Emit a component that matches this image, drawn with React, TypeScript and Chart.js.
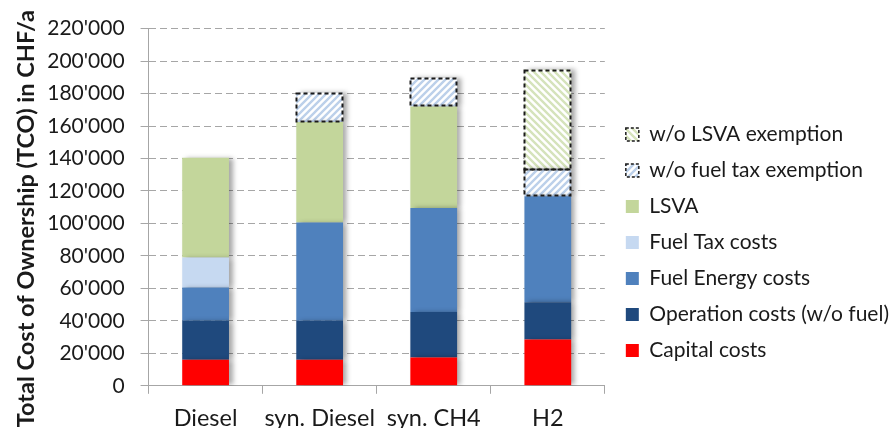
import React, { useEffect, useRef } from "react";
import { Chart, registerables } from "chart.js";

Chart.register(...registerables);

const categories = ["Diesel", "syn. Diesel", "syn. CH4", "H2"];
const capitalCosts = [16000, 16000, 17500, 28500];
const operationCosts = [24000, 24000, 28000, 23000];
const fuelEnergyCosts = [20500, 60500, 64000, 65300];
const fuelTaxCosts = [18500, 0, 0, 0];
const lsvaCosts = [61500, 62000, 62500, 0];
const fuelTaxExemption = [0, 18000, 17500, 16500];
const lsvaExemption = [0, 0, 0, 61500];
const yTicks = [0, 20000, 40000, 60000, 80000, 100000, 120000, 140000, 160000, 180000, 200000, 220000];
const yTitle = "Total Cost of Ownership (TCO) in CHF/a";

const FONT = "Lato, 'Open Sans', sans-serif";

function makeHatch(bg: string, stripe: string, dir: "/" | "\\") {
  const s = 7;
  const c = document.createElement("canvas");
  c.width = s;
  c.height = s;
  const g = c.getContext("2d")!;
  g.fillStyle = bg;
  g.fillRect(0, 0, s, s);
  g.strokeStyle = stripe;
  g.lineWidth = 2.4;
  g.beginPath();
  if (dir === "/") {
    g.moveTo(-s, s); g.lineTo(s, -s);
    g.moveTo(0, s); g.lineTo(s, 0);
    g.moveTo(0, 2 * s); g.lineTo(2 * s, 0);
  } else {
    g.moveTo(-s, 0); g.lineTo(s, 2 * s);
    g.moveTo(0, 0); g.lineTo(s, s);
    g.moveTo(0, -s); g.lineTo(2 * s, s);
  }
  g.stroke();
  return g.createPattern(c, "repeat") as CanvasPattern;
}

function fmt(v: number) {
  if (v === 0) return "0";
  const k = Math.floor(v / 1000);
  return `${k}'000`;
}

export default function App() {
  const ref = useRef<HTMLCanvasElement>(null);
  useEffect(() => {
    document.body.style.margin = "0";
    document.body.style.overflow = "hidden";
    const blueHatch = makeHatch("#ffffff", "#bcd0ea", "/");
    const greenHatch = makeHatch("#ffffff", "#d5e3bb", "\\");

    const shadowPlugin = {
      id: "barShadow",
      beforeDatasetDraw(chart: any) {
        const ctx = chart.ctx;
        ctx.save();
        ctx.shadowColor = "rgba(0,0,0,0.35)";
        ctx.shadowBlur = 5;
        ctx.shadowOffsetX = 4;
        ctx.shadowOffsetY = 0;
      },
      afterDatasetDraw(chart: any) {
        chart.ctx.restore();
      },
    };

    const dashPlugin = {
      id: "dashBorder",
      afterDatasetsDraw(chart: any) {
        const ctx = chart.ctx;
        chart.data.datasets.forEach((ds: any, i: number) => {
          if (!ds.hatched) return;
          const meta = chart.getDatasetMeta(i);
          meta.data.forEach((el: any, j: number) => {
            if (!ds.data[j]) return;
            const p = el.getProps(["x", "y", "base", "width"], true);
            ctx.save();
            ctx.setLineDash([4, 3]);
            ctx.lineWidth = 2;
            ctx.strokeStyle = "#1a1a1a";
            ctx.strokeRect(Math.round(p.x - p.width / 2) + 0.5, Math.round(p.y) + 0.5, Math.round(p.width) - 1, Math.round(p.base - p.y) - 1);
            ctx.restore();
          });
        });
      },
    };

    const legendShift = {
      id: "legendShift",
      afterLayout(chart: any) {
        if (chart.legend) {
          chart.legend.left += 6;
          chart.legend.right += 6;
        }
      },
    };

    const chart = new Chart(ref.current!, {
      type: "bar",
      data: {
        labels: categories,
        datasets: [
          { label: "Capital costs", data: capitalCosts, backgroundColor: "#ff0000" },
          { label: "Operation costs (w/o fuel)", data: operationCosts, backgroundColor: "#1f497d" },
          { label: "Fuel Energy costs", data: fuelEnergyCosts, backgroundColor: "#4f81bd" },
          { label: "Fuel Tax costs", data: fuelTaxCosts, backgroundColor: "#c6d9f1" },
          { label: "LSVA", data: lsvaCosts, backgroundColor: "#c3d69b" },
          { label: "w/o fuel tax exemption", data: fuelTaxExemption, backgroundColor: blueHatch, hatched: true } as any,
          { label: "w/o LSVA exemption", data: lsvaExemption, backgroundColor: greenHatch, hatched: true } as any,
        ],
      },
      options: {
        animation: false,
        responsive: false,
        events: [],
        layout: { padding: { left: 12, top: 4, right: 0, bottom: 0 } },
        datasets: { bar: { barPercentage: 0.41, categoryPercentage: 1, borderWidth: 0 } },
        scales: {
          x: {
            stacked: true,
            offset: true,
            grid: { display: true, drawOnChartArea: false, drawTicks: true, tickLength: 8, color: "#a6a6a6", offset: true },
            border: { display: true, color: "#a6a6a6", width: 1 },
            ticks: { font: { family: FONT, size: 23.5 }, color: "#1a1a1a", padding: 11, maxRotation: 0, autoSkip: false },
          },
          y: {
            stacked: true,
            min: 0,
            max: 220000,
            afterBuildTicks(scale: any) {
              scale.ticks = yTicks.map((v) => ({ value: v }));
            },
            grid: { color: "#a6a6a6", tickLength: 8, tickBorderDash: [], lineWidth: 1 },
            border: { display: true, color: "#a6a6a6", dash: [7, 4] } as any,
            ticks: { font: { family: FONT, size: 21 }, color: "#1a1a1a", padding: 16, callback: (v: any) => fmt(Number(v)) },
            title: { display: true, text: yTitle + "    ", font: { family: FONT, size: 23.5, weight: "bold" }, color: "#1a1a1a", padding: { top: 0, bottom: -9 } },
          },
        },
        plugins: {
          tooltip: { enabled: false },
          legend: {
            position: "right",
            align: "start",
            reverse: true,
            maxWidth: 320,
            title: { display: true, text: " ", font: { family: FONT, size: 10 }, padding: { top: 93, bottom: 0 } },
            labels: {
              boxWidth: 13,
              boxHeight: 13,
              padding: 15,
              color: "#1a1a1a",
              font: { family: FONT, size: 21 },
              generateLabels(ch: any) {
                const items = Chart.defaults.plugins.legend.labels.generateLabels(ch);
                items.forEach((it: any) => {
                  const ds: any = ch.data.datasets[it.datasetIndex];
                  if (ds.hatched) {
                    it.lineDash = [3, 2];
                    it.lineWidth = 1.5;
                    it.strokeStyle = "#1a1a1a";
                  } else {
                    it.lineWidth = 0;
                  }
                });
                return items;
              },
            },
          },
        },
      },
      plugins: [shadowPlugin, dashPlugin, legendShift],
    });
    return () => chart.destroy();
  }, []);

  return (
    <div style={{ position: "absolute", left: 0, top: 0, width: 893, height: 428, overflow: "hidden", background: "#fff" }}>
      <canvas ref={ref} width={893} height={444} style={{ display: "block", width: 893, height: 444 }} />
    </div>
  );
}
